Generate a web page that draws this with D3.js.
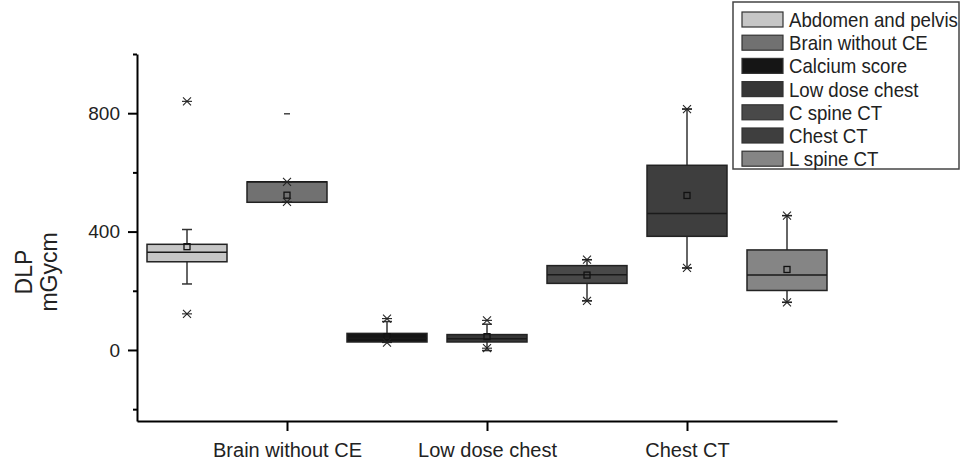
<!DOCTYPE html>
<html lang="en">
<head>
    <meta charset="UTF-8">
    <title>DLP box chart</title>
    <style>
        body {
            margin: 0;
            background-color: #fff;
        }

        svg {
            display: block;
            font-family: "Liberation Sans", Arial, sans-serif;
        }

        .axis path,
        .axis line {
            stroke: #000;
            stroke-width: 2px;
        }

        .axis text {
            fill: #222;
        }
    </style>
</head>
<body>

    <svg id="chart" width="961" height="461"></svg>

    <script src="https://d3js.org/d3.v7.min.js"></script>
    <script>
        // values (DLP, mGycm)
        const categories = ["Abdomen and pelvis", "Brain without CE", "Calcium score", "Low dose chest", "C spine CT", "Chest CT", "L spine CT"];
        const colors = ["#c6c6c6", "#717171", "#151515", "#363636", "#494949", "#3e3e3e", "#858585"];
        const q1 = [298, 499, 27, 27, 225, 384, 201];
        const median = [330, 568, 40, 38, 254, 461, 253];
        const q3 = [357, 568, 56, 52, 285, 624, 338];
        const mean = [349, 523, 45, 45, 253, 522, 272];
        const whiskerLow = [223, 499, 27, -2, 166, 277, 161];
        const whiskerHigh = [407, 568, 96, 87, 305, 814, 454];
        const pctLow = [122, 500, 25, 6, 166, 277, 161];
        const pctHigh = [840, 568, 106, 100, 305, 814, 454];
        const maxMark = [null, 798, null, null, null, null, null];

        const yMajor = [0, 400, 800];
        const yMinor = [-200, 200, 600, 1000];
        const xLabelled = ["Brain without CE", "Low dose chest", "Chest CT"];

        const svg = d3.select("#chart");

        const x = d3.scaleLinear().domain([0.5, categories.length + 0.5]).range([137, 837]);
        const y = d3.scaleLinear().domain([-240, 1000]).range([421, 54]);
        const boxW = x(0.8) - x(0);

        const rows = categories.map((c, i) => ({
            name: c, pos: i + 1, color: colors[i],
            q1: q1[i], med: median[i], q3: q3[i], mean: mean[i],
            lo: whiskerLow[i], hi: whiskerHigh[i],
            pLo: pctLow[i], pHi: pctHigh[i], max: maxMark[i]
        }));

        // axes
        svg.append("g")
            .attr("class", "axis")
            .attr("transform", "translate(137,0)")
            .call(d3.axisLeft(y).tickValues(yMinor).tickSize(4).tickFormat(""))
            .call(g => g.select(".domain").remove());

        svg.append("g")
            .attr("class", "axis")
            .attr("transform", "translate(137,0)")
            .call(d3.axisLeft(y).tickValues(yMajor).tickSize(9).tickPadding(8).tickSizeOuter(0))
            .call(g => g.selectAll("text").style("font-size", "19px"));

        svg.append("g")
            .attr("class", "axis")
            .attr("transform", "translate(0,421)")
            .call(d3.axisBottom(x)
                .tickValues(xLabelled.map(n => categories.indexOf(n) + 1))
                .tickFormat(d => categories[d - 1])
                .tickSize(10).tickPadding(12).tickSizeOuter(0))
            .call(g => g.selectAll("text").style("font-size", "20px"));

        // y title
        const title = svg.append("g").attr("fill", "#222").style("font-size", "23px").attr("text-anchor", "middle");
        title.append("text").attr("transform", "translate(32,272) rotate(-90)").text("DLP");
        title.append("text").attr("transform", "translate(57,272) rotate(-90)").text("mGycm");

        // boxes
        const box = svg.append("g").selectAll("g")
            .data(rows)
            .enter().append("g")
            .attr("transform", d => `translate(${x(d.pos)},0)`);

        box.append("line")
            .attr("y1", d => y(d.q3)).attr("y2", d => y(d.hi))
            .attr("stroke", "#333").attr("stroke-width", 1.5);
        box.append("line")
            .attr("y1", d => y(d.q1)).attr("y2", d => y(d.lo))
            .attr("stroke", "#333").attr("stroke-width", 1.5);
        box.selectAll(".cap")
            .data(d => [d.lo, d.hi])
            .enter().append("line")
            .attr("class", "cap")
            .attr("x1", -5).attr("x2", 5)
            .attr("y1", v => y(v)).attr("y2", v => y(v))
            .attr("stroke", "#333").attr("stroke-width", 1.5);

        box.append("rect")
            .attr("x", -boxW / 2)
            .attr("width", boxW)
            .attr("y", d => y(d.q3))
            .attr("height", d => y(d.q1) - y(d.q3))
            .attr("fill", d => d.color)
            .attr("stroke", "#222").attr("stroke-width", 1.5);

        box.append("line")
            .attr("x1", -boxW / 2).attr("x2", boxW / 2)
            .attr("y1", d => y(d.med)).attr("y2", d => y(d.med))
            .attr("stroke", "#1a1a1a").attr("stroke-width", 1.5);

        box.append("rect")
            .attr("x", -3).attr("width", 6)
            .attr("y", d => y(d.mean) - 3).attr("height", 6)
            .attr("fill", "none")
            .attr("stroke", "#111").attr("stroke-width", 1.3);

        // 1% / 99% marks
        const star = box.selectAll(".star")
            .data(d => [d.pLo, d.pHi])
            .enter().append("g")
            .attr("class", "star")
            .attr("transform", v => `translate(0,${y(v)})`)
            .attr("stroke", "#222").attr("stroke-width", 1.1);
        star.append("line").attr("x1", -4).attr("x2", 4).attr("y1", -4).attr("y2", 4);
        star.append("line").attr("x1", -4).attr("x2", 4).attr("y1", 4).attr("y2", -4);
        star.append("line").attr("x1", -5).attr("x2", 5).attr("y1", 0).attr("y2", 0);

        // max marks
        box.filter(d => d.max !== null)
            .append("line")
            .attr("x1", -3).attr("x2", 3)
            .attr("y1", d => y(d.max)).attr("y2", d => y(d.max))
            .attr("stroke", "#444").attr("stroke-width", 1.5);

        // legend
        const legend = svg.append("g");
        legend.append("rect")
            .attr("x", 733).attr("y", 2).attr("width", 226).attr("height", 167)
            .attr("fill", "#fff").attr("stroke", "#444").attr("stroke-width", 1.5);

        const item = legend.selectAll(".item")
            .data(rows)
            .enter().append("g")
            .attr("class", "item")
            .attr("transform", (d, i) => `translate(742,${12 + i * 23.2})`);
        item.append("rect")
            .attr("width", 41).attr("height", 15)
            .attr("fill", d => d.color)
            .attr("stroke", "#333").attr("stroke-width", 1.2);
        item.append("text")
            .attr("transform", "translate(47,15) scale(0.91,1)")
            .attr("fill", "#222")
            .style("font-size", "20.5px")
            .text(d => d.name);
    </script>
</body>
</html>
